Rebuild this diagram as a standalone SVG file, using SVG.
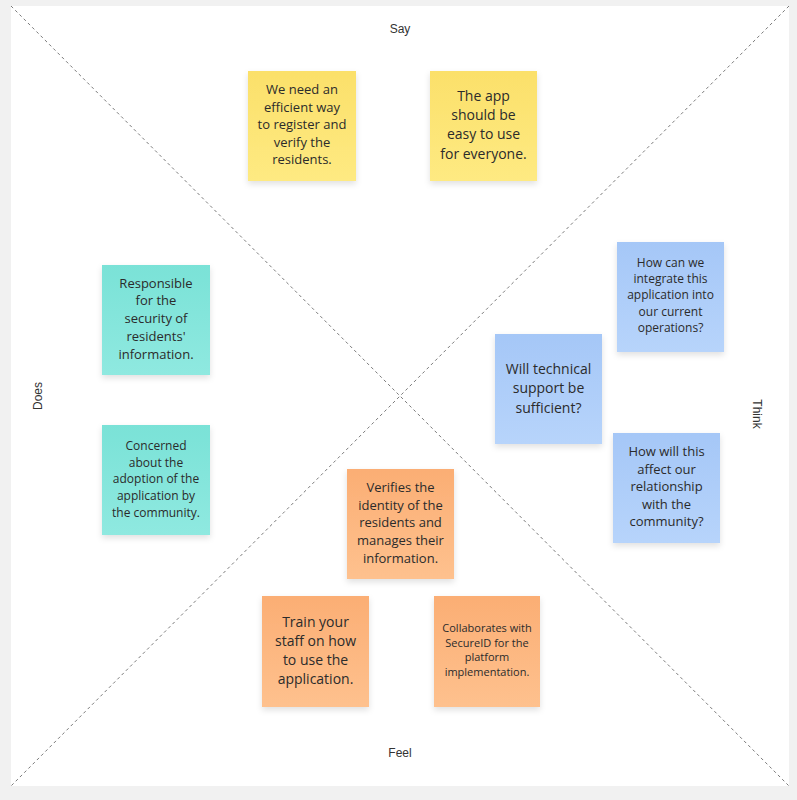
<svg xmlns="http://www.w3.org/2000/svg" width="797" height="800" viewBox="0 0 797 800">
<defs>
<style>
.note text{font-family:"Open Sans","Noto Sans",sans-serif;fill:#2b2b2b;text-anchor:middle}
.lbl{font-family:"Liberation Sans",Arial,sans-serif;font-size:12px;fill:#333;text-anchor:middle}
.diag{stroke:#7a7a7a;stroke-width:1;stroke-dasharray:3 3;fill:none}
</style>
<linearGradient id="gy" x1="0" y1="0" x2="0" y2="1"><stop offset="0" stop-color="#fbe06a"/><stop offset="1" stop-color="#feea82"/></linearGradient>
<linearGradient id="gt" x1="0" y1="0" x2="0" y2="1"><stop offset="0" stop-color="#7ae2d7"/><stop offset="1" stop-color="#8fe9e0"/></linearGradient>
<linearGradient id="gb" x1="0" y1="0" x2="0" y2="1"><stop offset="0" stop-color="#a5c7f7"/><stop offset="1" stop-color="#b7d4fb"/></linearGradient>
<linearGradient id="go" x1="0" y1="0" x2="0" y2="1"><stop offset="0" stop-color="#fbae74"/><stop offset="1" stop-color="#fec18e"/></linearGradient>
<filter id="sh" x="-20%" y="-20%" width="140%" height="150%"><feDropShadow dx="0" dy="3" stdDeviation="3" flood-color="#000" flood-opacity="0.12"/></filter>
</defs>
<rect x="0" y="0" width="797" height="800" fill="#f1f1f1"/>
<rect x="11" y="6" width="778" height="780" fill="#ffffff"/>
<g id="connectors">
<line class="diag" x1="11" y1="6" x2="789" y2="786"/>
<line class="diag" x1="789" y1="6" x2="11" y2="786"/>
</g>
<g id="labels">
<text class="lbl" x="400" y="32.5">Say</text>
<text class="lbl" x="400" y="757">Feel</text>
<text class="lbl" transform="translate(42,396) rotate(-90)">Does</text>
<text class="lbl" transform="translate(753,414) rotate(90)">Think</text>
</g>
<g id="note-say-1" class="note">
<rect x="248" y="71" width="108" height="110" fill="url(#gy)" filter="url(#sh)"/>
<text font-size="13"><tspan x="302" y="94">We need an</tspan><tspan x="302" y="111.5">efficient way</tspan><tspan x="302" y="129">to register and</tspan><tspan x="302" y="146.5">verify the</tspan><tspan x="302" y="164">residents.</tspan></text>
</g>
<g id="note-say-2" class="note">
<rect x="430" y="71" width="107" height="110" fill="url(#gy)" filter="url(#sh)"/>
<text font-size="14"><tspan x="483.5" y="100.7">The app</tspan><tspan x="483.5" y="120">should be</tspan><tspan x="483.5" y="139.3">easy to use</tspan><tspan x="483.5" y="158.6">for everyone.</tspan></text>
</g>
<g id="note-think-1" class="note">
<rect x="617" y="242" width="107" height="110" fill="url(#gb)" filter="url(#sh)"/>
<text font-size="12"><tspan x="670.5" y="266.7">How can we</tspan><tspan x="670.5" y="283">integrate this</tspan><tspan x="670.5" y="299.3">application into</tspan><tspan x="670.5" y="315.6">our current</tspan><tspan x="670.5" y="332">operations?</tspan></text>
</g>
<g id="note-think-2" class="note">
<rect x="495" y="334" width="107" height="110" fill="url(#gb)" filter="url(#sh)"/>
<text font-size="14"><tspan x="548.5" y="374">Will technical</tspan><tspan x="548.5" y="393.3">support be</tspan><tspan x="548.5" y="412.6">sufficient?</tspan></text>
</g>
<g id="note-think-3" class="note">
<rect x="613" y="433" width="107" height="110" fill="url(#gb)" filter="url(#sh)"/>
<text font-size="13"><tspan x="666.5" y="456">How will this</tspan><tspan x="666.5" y="473.6">affect our</tspan><tspan x="666.5" y="491.2">relationship</tspan><tspan x="666.5" y="508.8">with the</tspan><tspan x="666.5" y="526.4">community?</tspan></text>
</g>
<g id="note-does-1" class="note">
<rect x="102" y="265" width="108" height="110" fill="url(#gt)" filter="url(#sh)"/>
<text font-size="13"><tspan x="156" y="287.7">Responsible</tspan><tspan x="156" y="305.4">for the</tspan><tspan x="156" y="323.1">security of</tspan><tspan x="156" y="340.8">residents'</tspan><tspan x="156" y="358.5">information.</tspan></text>
</g>
<g id="note-does-2" class="note">
<rect x="102" y="425" width="108" height="110" fill="url(#gt)" filter="url(#sh)"/>
<text font-size="12"><tspan x="156" y="450">Concerned</tspan><tspan x="156" y="466.7">about the</tspan><tspan x="156" y="483.4">adoption of the</tspan><tspan x="156" y="500.1">application by</tspan><tspan x="156" y="516.8">the community.</tspan></text>
</g>
<g id="note-feel-1" class="note">
<rect x="347" y="469" width="107" height="110" fill="url(#go)" filter="url(#sh)"/>
<text font-size="13"><tspan x="400.5" y="491.7">Verifies the</tspan><tspan x="400.5" y="509.5">identity of the</tspan><tspan x="400.5" y="527.3">residents and</tspan><tspan x="400.5" y="545.1">manages their</tspan><tspan x="400.5" y="562.9">information.</tspan></text>
</g>
<g id="note-feel-2" class="note">
<rect x="262" y="596" width="107" height="111" fill="url(#go)" filter="url(#sh)"/>
<text font-size="14"><tspan x="315.5" y="626.7">Train your</tspan><tspan x="315.5" y="645.9">staff on how</tspan><tspan x="315.5" y="665.1">to use the</tspan><tspan x="315.5" y="684.3">application.</tspan></text>
</g>
<g id="note-feel-3" class="note">
<rect x="434" y="596" width="106" height="111" fill="url(#go)" filter="url(#sh)"/>
<text font-size="11"><tspan x="487" y="631.7">Collaborates with</tspan><tspan x="487" y="646.5">SecureID for the</tspan><tspan x="487" y="661.3">platform</tspan><tspan x="487" y="676.1">implementation.</tspan></text>
</g>
</svg>
